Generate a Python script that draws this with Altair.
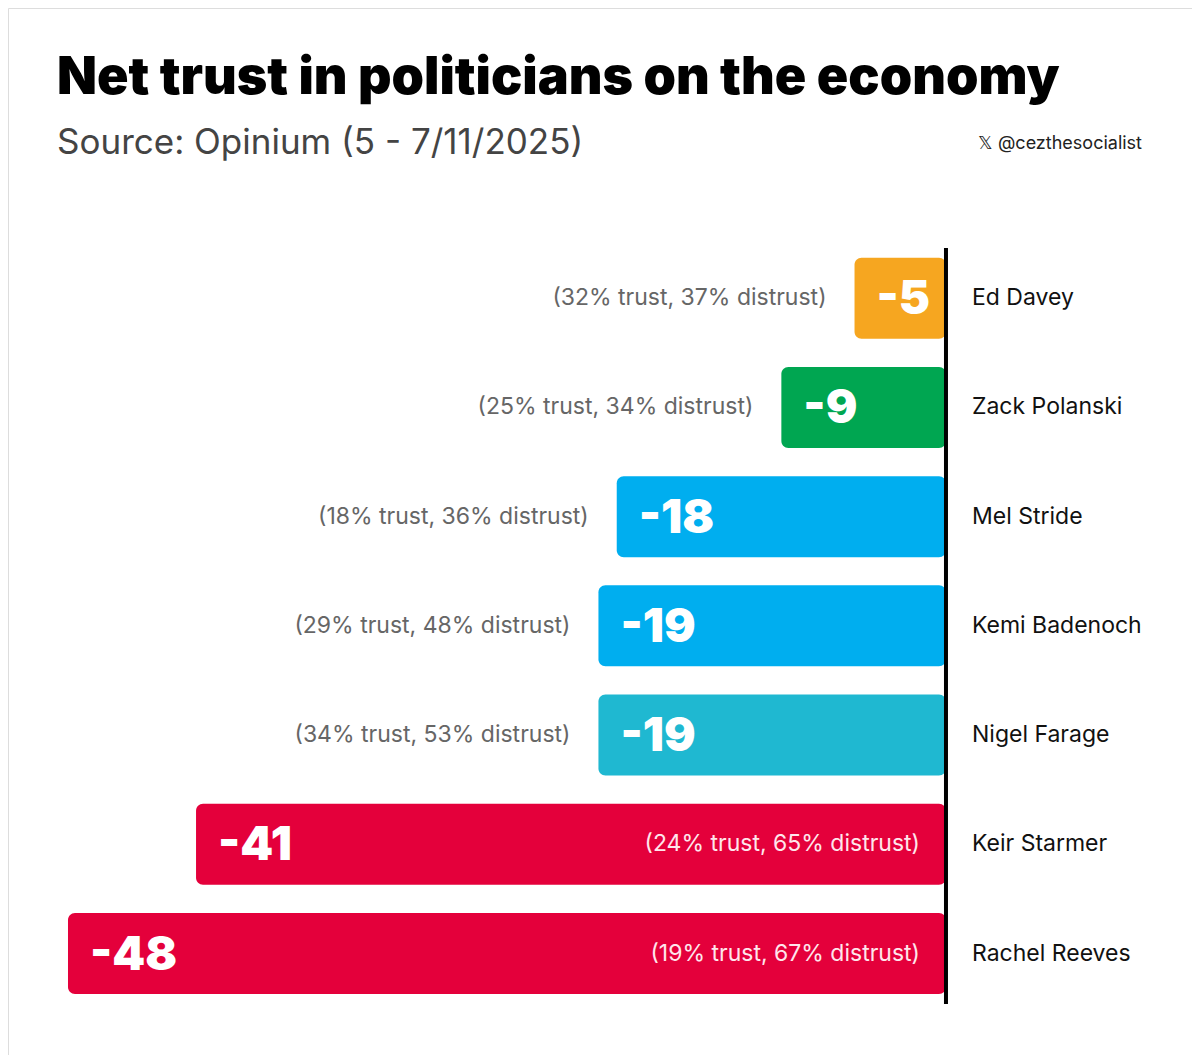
import altair as alt
import pandas as pd

names = ["Ed Davey", "Zack Polanski", "Mel Stride", "Kemi Badenoch", "Nigel Farage", "Keir Starmer", "Rachel Reeves"]
net = [-5, -9, -18, -19, -19, -41, -48]
trust = [32, 25, 18, 29, 34, 24, 19]
distrust = [37, 34, 36, 48, 53, 65, 67]
colors = ["#F6A620", "#00A651", "#00AEEF", "#00AEEF", "#1FB8D1", "#E4003B", "#E4003B"]

df = pd.DataFrame({"name": names, "net": net, "trust": trust, "distrust": distrust, "color": colors})
df["idx"] = range(len(df))
df["z"] = 0
df["label"] = df["net"].astype(str)
df["annot"] = "(" + df["trust"].astype(str) + "% trust, " + df["distrust"].astype(str) + "% distrust)"
df["inside"] = (df["net"] < -30).astype(int)
df["annot_x"] = df.apply(lambda r: 0 if r["inside"] else r["net"], axis=1)

W, H = 1184, 1047
xs = alt.Scale(domain=[-51.28, 13.45], nice=False, zero=False)
ys = alt.Scale(domain=[-2.611, 6.883], nice=False, zero=False, reverse=True)
x = alt.X("net:Q", scale=xs, axis=None)
y = alt.Y("idx:Q", scale=ys, axis=None)

base = alt.Chart(df)
bars = base.mark_bar(cornerRadius=7, size=81).encode(x=x, x2="z:Q", y=y, color=alt.Color("color:N", scale=None))
vals = base.mark_text(align="left", baseline="middle", dx=22, dy=2, font="Inter", fontWeight=900, fontSize=47, color="white").encode(x=x, y=y, text="label:N")
ann_out = base.transform_filter("datum.inside == 0").mark_text(align="right", baseline="middle", dx=-28, font="Inter", fontSize=23, color="#666666").encode(
    x=alt.X("annot_x:Q", scale=xs, axis=None), y=y, text="annot:N")
ann_in = base.transform_filter("datum.inside == 1").mark_text(align="right", baseline="middle", dx=-26, font="Inter", fontSize=23, color="#FFE6EC").encode(
    x=alt.X("annot_x:Q", scale=xs, axis=None), y=y, text="annot:N")
nm = base.mark_text(align="left", baseline="middle", dx=26, font="Inter", fontSize=23, color="#111111").encode(
    x=alt.X("z:Q", scale=xs, axis=None), y=y, text="name:N")
rule = base.transform_filter("datum.idx == 0").mark_rule(strokeWidth=4, color="black").encode(
    x=alt.X("z:Q", scale=xs, axis=None), y=alt.value(240), y2=alt.value(996))

title = base.transform_filter("datum.idx == 0").mark_text(align="left", baseline="alphabetic", font="Inter", fontWeight=900, fontSize=52, color="#000000").encode(
    x=alt.value(49), y=alt.value(86), text=alt.value("Net trust in politicians on the economy"))
sub = base.transform_filter("datum.idx == 0").mark_text(align="left", baseline="alphabetic", font="Inter", fontSize=35, color="#444444").encode(
    x=alt.value(49), y=alt.value(146), text=alt.value("Source: Opinium (5 - 7/11/2025)"))
cred = base.transform_filter("datum.idx == 0").mark_text(align="right", baseline="alphabetic", font="Inter", fontSize=18, color="#222222").encode(
    x=alt.value(1134), y=alt.value(141), text=alt.value("𝕏  @cezthesocialist"))

chart = alt.layer(bars, vals, ann_out, ann_in, nm, rule, title, sub, cred).properties(
    width=W, height=H, autosize=alt.AutoSizeParams(type="none"), padding=0
).configure_view(stroke="transparent").configure(background="white")

chart.save("out.html", embed_options={"renderer": "svg", "actions": False})
